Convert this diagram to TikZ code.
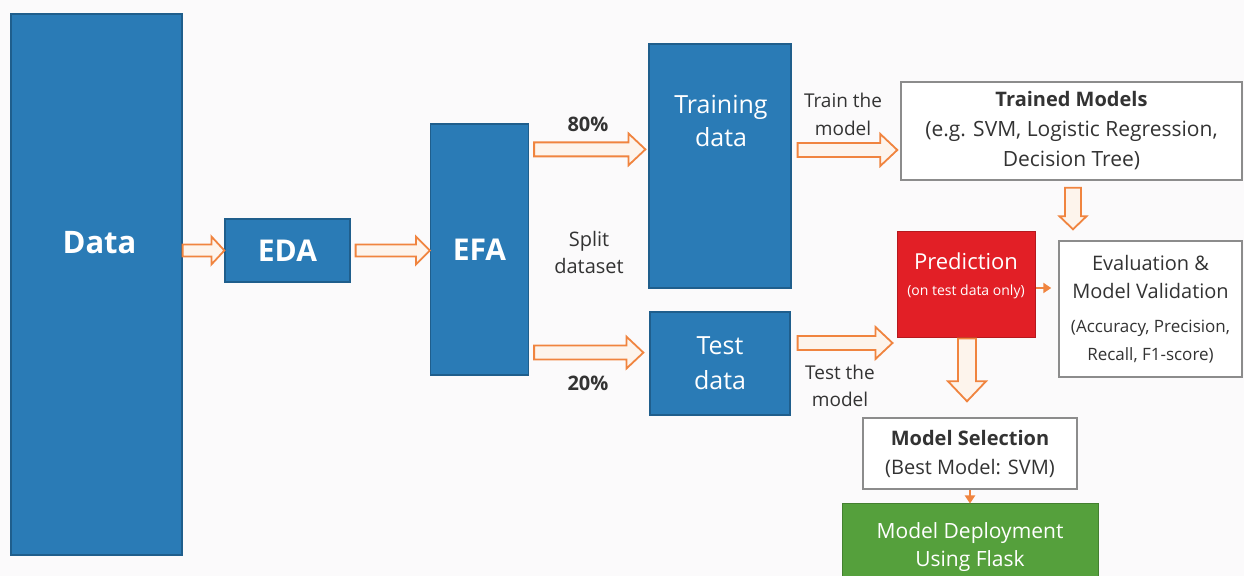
\documentclass[tikz,border=0pt]{standalone}
\usepackage{fontspec}
\setmainfont{Open Sans}
\usetikzlibrary{calc,arrows.meta}
\definecolor{boxblue}{HTML}{2A7BB6}
\definecolor{boxblueedge}{HTML}{1F5E8C}
\definecolor{predred}{HTML}{E21F26}
\definecolor{depgreen}{HTML}{55A03C}
\definecolor{arrorange}{HTML}{F0843F}
\definecolor{arrfill}{HTML}{FDF4EC}
\definecolor{graybord}{HTML}{8C8C8C}
\definecolor{txtgray}{HTML}{333333}
\definecolor{bgc}{HTML}{FBFAFB}
\def\arsw{3.5pt}\def\arhw{8pt}\def\arhl{8.5pt}
\newcommand{\smalltxt}[1]{{\fontsize{8.5}{12}\selectfont #1}}
\tikzset{
  sz/.style 2 args={minimum width=#1*0.5pt, minimum height=#2*0.5pt},
  bluebox/.style={rectangle, fill=boxblue, draw=boxblueedge, line width=0.6pt, inner sep=0pt, align=center, text=white},
  graybox/.style={rectangle, fill=white, draw=graybord, line width=0.7pt, inner sep=0pt, align=center, text=txtgray},
  lbl/.style={align=center, text=txtgray, inner sep=0pt},
  wlbl/.style={align=center, text=white, inner sep=0pt},
  arrdim/.code args={#1/#2/#3}{\def\arsw{#1}\def\arhw{#2}\def\arhl{#3}},
  blockarrow/.style={draw=arrorange, fill=arrfill, line width=0.9pt, line join=miter},
  harrow/.style={blockarrow, to path={let \p1=(\tikztostart), \p2=(\tikztotarget) in
     (\x1,\y1+\arsw) -- (\x2-\arhl,\y1+\arsw) -- (\x2-\arhl,\y1+\arhw) -- (\x2,\y1)
     -- (\x2-\arhl,\y1-\arhw) -- (\x2-\arhl,\y1-\arsw) -- (\x1,\y1-\arsw) -- cycle}},
  varrow/.style={blockarrow, to path={let \p1=(\tikztostart), \p2=(\tikztotarget) in
     (\x1-\arsw,\y1) -- (\x1-\arsw,\y2+\arhl) -- (\x1-\arhw,\y2+\arhl) -- (\x1,\y2)
     -- (\x1+\arhw,\y2+\arhl) -- (\x1+\arsw,\y2+\arhl) -- (\x1+\arsw,\y1) -- cycle}},
  smallarrow/.style={draw=arrorange, line width=1pt, -{Triangle[length=4pt,width=5pt]}},
}
\begin{document}
\begin{tikzpicture}[x=0.5pt,y=-0.5pt]
\useasboundingbox (0,0) rectangle (1244,576);
\clip (0,0) rectangle (1244,576);
\fill[bgc] (0,0) rectangle (1244,576);

% blue boxes
\node[bluebox, sz={171}{541}] (data) at (96.5,284.5) {};
\node[wlbl, font=\bfseries\fontsize{15.5}{18}\selectfont] (datatxt) at (99.5,243) {Data};
\node[bluebox, sz={125}{63}, font=\bfseries\fontsize{15}{18}\selectfont] (eda) at (287.5,250.5) {EDA};
\node[bluebox, sz={98}{251}, font=\bfseries\fontsize{15}{18}\selectfont] (efa) at (479.5,249.5) {EFA};
\node[bluebox, sz={142}{244}] (train) at (720,166) {};
\node[wlbl, font=\fontsize{12.5}{16.5}\selectfont] (traintxt) at (721,121) {Training\\data};
\node[bluebox, sz={140}{103}, font=\fontsize{12.5}{17.5}\selectfont] (test) at (720,363.5) {Test\\data};

% right side boxes
\node[graybox, sz={341}{98}, font=\fontsize{10.5}{15}\selectfont] (trained) at (1071.5,131)
  {\textbf{\fontsize{10}{15}\selectfont Trained Models}\\(e.g. SVM, Logistic Regression,\\Decision Tree)};
\node[rectangle, fill=predred, draw=predred!80!black, line width=0.5pt, sz={138}{106}] (pred) at (966,285) {};
\node[wlbl] (predtxt) at (966,276)
  {\fontsize{11}{13}\selectfont Prediction\\[1pt]\fontsize{7}{9}\selectfont (on test data only)};
\node[graybox, sz={183}{136}, font=\fontsize{10}{14}\selectfont] (eval) at (1150.5,309)
  {Evaluation \&\\Model Validation\\[3pt]
   \smalltxt{(Accuracy, Precision,}\\\smalltxt{Recall, F1-score)}};
\node[graybox, sz={214}{71}, font=\fontsize{10}{14.5}\selectfont] (sel) at (970,453.5)
  {\textbf{Model Selection}\\(Best Model: SVM)};
\node[rectangle, fill=depgreen, draw=depgreen!80!black, line width=0.5pt, sz={256}{86},
  align=center, text=white, font=\fontsize{10.5}{14}\selectfont] (dep) at (970,547)
  {Model Deployment\\Using Flask};

% labels
\node[lbl, font=\bfseries\fontsize{10}{12}\selectfont] (p80) at (588,124) {80\%};
\node[lbl, font=\fontsize{10}{13.5}\selectfont] (split) at (589,253) {Split\\dataset};
\node[lbl, font=\bfseries\fontsize{10}{12}\selectfont] (p20) at (588,383) {20\%};
\node[lbl, font=\fontsize{9.5}{14}\selectfont] (trainlbl) at (843,114) {Train the\\model};
\node[lbl, font=\fontsize{9.5}{13.5}\selectfont] (testlbl) at (840,386) {Test the\\model};

% block arrows
\draw[harrow, arrdim=3pt/7pt/6.5pt] (data.east |- eda.west) to (eda.west);
\draw[harrow, arrdim=3pt/7pt/7pt] ([xshift=2.5pt]eda.east) to (efa.west);
\draw[harrow] ([shift={(5,26)}]efa.north east) to ([xshift=-1.5pt]train.west);
\draw[harrow] ([shift={(5,-23)}]efa.south east) to ([xshift=-3pt]test.west);
\draw[harrow] ([shift={(6,-16)}]train.east) to ([xshift=-1.5pt]trained.west);
\draw[harrow] ([shift={(7,-20.5)}]test.east) to ([xshift=-2pt]pred.west);
\draw[varrow, arrdim=4pt/6.75pt/6.5pt] ([shift={(1.5,7)}]trained.south) to ([yshift=5.5pt]eval.north);
\draw[varrow, arrdim=4.5pt/9.5pt/10pt] ([xshift=0.5pt]pred.south) to ([yshift=8pt]sel.north);

% small arrows
\draw[smallarrow, shorten >=3.5pt] ([yshift=-1.5pt]pred.east) -- ([yshift=-1.5pt]pred.east -| eval.west);
\draw[smallarrow] (sel.south) -- (dep.north);
\end{tikzpicture}
\end{document}
